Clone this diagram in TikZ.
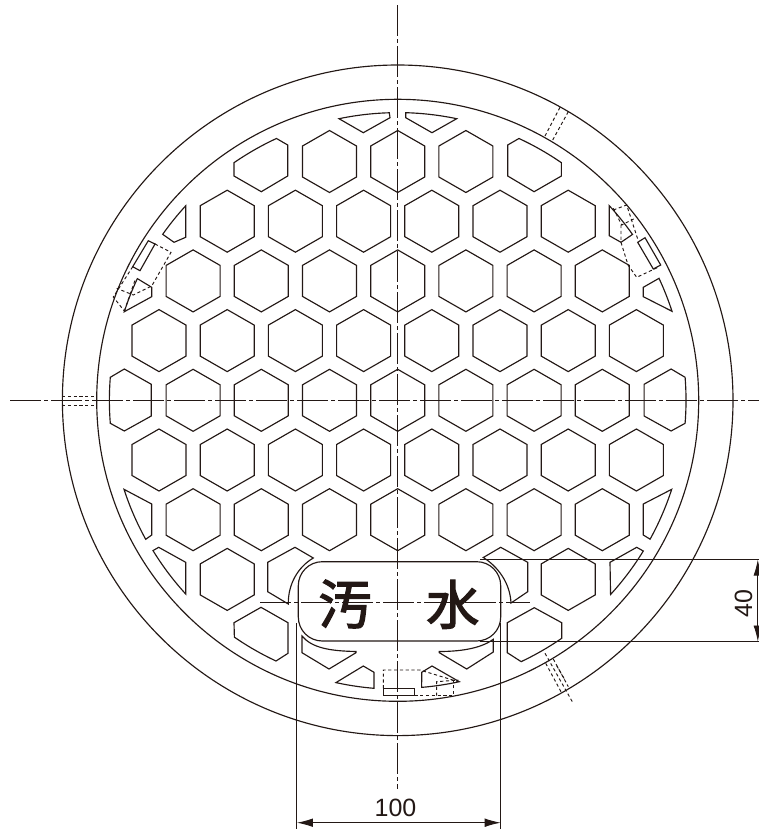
\documentclass[tikz,border=0pt]{standalone}
\usepackage{fontspec}
\setmainfont{Liberation Sans}
\newfontfamily\cjkfont[FakeBold=2.5]{Noto Sans CJK JP}
\usetikzlibrary{arrows.meta}
\definecolor{ink}{HTML}{231815}
\def\cx{397.7}
\def\cy{400.3}
\newcommand\ringpiece[3]{%
  \pgfmathsetmacro\ringA{atan2(#2-\cy,#1-\cx)}%
  \pgfmathsetmacro\ringR{veclen(#1-\cx,#2-\cy)}%
  \draw[hole] (#1,#2) arc[start angle=\ringA,end angle=#3,radius=\ringR]
}
\tikzset{
  hole/.style={draw=ink,line width=1.15pt,line join=miter},
  ring/.style={draw=ink,line width=1.15pt},
  centerline/.style={draw=ink,line width=0.9pt,dash pattern=on 31pt off 3pt on 4pt off 3pt},
  hidden/.style={draw=ink,line width=0.95pt,dash pattern=on 3.2pt off 2.6pt},
  thinline/.style={draw=ink,line width=0.95pt},
  dimline/.style={draw=ink,line width=0.95pt,{Latex[length=16pt,width=8.6pt]}-{Latex[length=16pt,width=8.6pt]}},
  dimtext/.style={text=ink,font=\fontsize{25}{30}\selectfont,inner sep=0pt},
  kanji/.style={text=ink,font=\fontsize{53}{60}\cjkfont,inner sep=0pt}
}
\begin{document}
\begin{tikzpicture}[x=1pt,y=1pt,yscale=-1]
\useasboundingbox (0,0) rectangle (759,830);
\coordinate (c) at (\cx,\cy);
% rings
\draw[ring] (c) circle[radius=335.3pt];
\draw[ring] (c) circle[radius=301pt];
% full hexagons
\foreach \r/\ks in {-4/{-1,0,1},-3/{-2.5,-1.5,-0.5,0.5,1.5,2.5},-2/{-3,-2,-1,0,1,2,3},
   -1/{-3.5,-2.5,-1.5,-0.5,0.5,1.5,2.5,3.5},0/{-3,-2,-1,0,1,2,3},
   1/{-3.5,-2.5,-1.5,-0.5,0.5,1.5,2.5,3.5},2/{-3,-2,-1,0,1,2,3},3/{-2.5,2.5}}{
  \foreach \k in \ks {
    \draw[hole,shift={(\cx+\k*68.2,\cy+\r*59.7)}]
      (0,-31)--(27,-15.5)--(27,15.5)--(0,31)--(-27,15.5)--(-27,-15.5)--cycle;
  }
}
% pieces cut by the inner arc
\pgfmathsetmacro\e{atan2(139-\cy,276.7-\cx)}
\ringpiece{234}{162.7}{\e} -- (287.7,145) -- (287.7,176) -- (261.3,191.7) -- (234,176) -- cycle;
\pgfmathsetmacro\e{atan2(139-\cy,518.7-\cx)}
\ringpiece{561.4}{162.7}{\e} -- (507.7,145) -- (507.7,176) -- (534.1,191.7) -- (561.4,176) -- cycle;
\pgfmathsetmacro\e{atan2(205.7-\cy,185.7-\cx)}
\ringpiece{162.7}{234.3}{\e} -- (185.7,237.3) -- (174,242.3) -- cycle;
\pgfmathsetmacro\e{atan2(234.3-\cy,632.7-\cx)}
\ringpiece{609.3}{205.7}{\e} -- (621,242.3) -- (609.3,235.7) -- cycle;
\pgfmathsetmacro\e{atan2(278.3-\cy,136.7-\cx)}
\ringpiece{124.3}{311.7}{\e} -- (151.7,287.3) -- (151.7,296.7) -- cycle;
\pgfmathsetmacro\e{atan2(311.7-\cy,670.7-\cx)}
\ringpiece{659}{278.3}{\e} -- (643.3,296.7) -- (643.3,287.3) -- cycle;
\pgfmathsetmacro\e{atan2(112.7-\cy,389.3-\cx)}
\ringpiece{339}{118.7}{\e} -- (390,117.7) -- (363.3,132.7) -- cycle;
\pgfmathsetmacro\e{atan2(118.7-\cy,456.7-\cx)}
\ringpiece{405.7}{112.7}{\e} -- (432,132.7) -- (405.7,117.7) -- cycle;
\pgfmathsetmacro\e{atan2(377.3-\cy,110.3-\cx)+360}
\ringpiece{110.3}{423.3}{\e} -- (124.3,369) -- (151.3,384.3) -- (151.3,416) -- (124.3,431) -- cycle;
\pgfmathsetmacro\e{atan2(423.3-\cy,685.1-\cx)}
\ringpiece{685.1}{377.3}{\e} -- (671.1,431) -- (644.1,416) -- (644.1,384.3) -- (671.1,369) -- cycle;
\pgfmathsetmacro\e{atan2(489.3-\cy,124-\cx)}
\ringpiece{145.7}{539.3}{\e} -- (151.7,504) -- (151.7,535) -- cycle;
\pgfmathsetmacro\e{atan2(539.3-\cy,650.3-\cx)}
\ringpiece{671.7}{489.3}{\e} -- (643.3,535) -- (643.3,504) -- cycle;
\pgfmathsetmacro\e{atan2(551-\cy,152.3-\cx)}
\ringpiece{185.7}{594}{\e} -- (158.7,547.3) -- (185.7,562.3) -- cycle;
\pgfmathsetmacro\e{atan2(594-\cy,610-\cx)}
\ringpiece{643.3}{551}{\e} -- (610,562.3) -- (636.7,547.3) -- cycle;
\pgfmathsetmacro\e{atan2(637.7-\cy,234-\cx)}
\ringpiece{276}{661}{\e} -- (234,622.7) -- (261,607.3) -- (288,622.7) -- (288,653.3) -- cycle;
\pgfmathsetmacro\e{atan2(660.7-\cy,520.7-\cx)}
\ringpiece{561.7}{638.3}{\e} -- (507.3,652.7) -- (507.3,622.7) -- (534.3,607.7) -- (561.7,622.7) -- cycle;
\pgfmathsetmacro\e{atan2(682.3-\cy,336-\cx)}
\ringpiece{374}{688.3}{\e} -- (363.3,666) -- (374,672.3) -- cycle;
\pgfmathsetmacro\e{atan2(688-\cy,421.7-\cx)}
\ringpiece{459.3}{681.7}{\e} -- (421.7,672.3) -- (432,666) -- cycle;
% pieces next to the name plate
\draw[hole] (313.3,558) .. controls (298,567) and (288,584) .. (288.3,604) -- (267.7,591.7) -- (267.7,562.3) -- (295,547.3) -- cycle;
\draw[hole] (483.3,557.5) .. controls (497,566) and (510,582) .. (511,603) -- (527.7,591.7) -- (527.7,562.3) -- (500.7,547.3) -- cycle;
\draw[hole] (302,636) .. controls (312,648) and (330,651) .. (356,651.5) -- (356,652.7) -- (329,669) -- (302,652.7) -- cycle;
\draw[hole] (493.3,639.3) .. controls (483,647) and (465,651.5) .. (439.3,651.5) -- (439.3,652.7) -- (466.7,669) -- (493.3,652) -- cycle;
% name plate
\draw[hole,rounded corners=24pt] (298.3,561.7) rectangle (500.7,641);
% solid small rectangles
\draw[hole] (148.3,240.7) -- (155,244) -- (140,270.7) -- (132.7,266.7) -- cycle;
\draw[hole] (645,237.7) -- (660.7,265) -- (653.3,269) -- (637.7,242.3) -- cycle;
\draw[hole] (383.3,688.3) rectangle (414.3,695.7);
% hidden lines, left group
\draw[hidden] (155,244) -- (171,252.3) -- (151.7,286) -- (133.3,295) -- (116.7,288.3);
\draw[hidden] (132.7,266.7) -- (113.3,297) -- (124.3,311);
\draw[hidden] (124.3,311) -- (135.7,278.3);
% hidden lines, right group
\draw[hidden] (613.3,210) -- (626.7,205) -- (638,240);
\draw[hidden] (613.3,208.3) -- (621.7,225) -- (635,218.3);
\draw[hidden] (621,225) -- (621,242.3) -- (628,265) -- (636.7,277.3) -- (659.3,266.7);
% hidden lines, bottom group
\draw[hidden] (383.3,688.3) -- (383.3,670) -- (420,670) -- (458.3,681.7);
\draw[hidden] (414.3,695.7) -- (453.3,695.7) -- (453.3,680);
\draw[hidden] (436.7,695.7) -- (436.7,681.7) -- (458.3,680);
% hidden lines across the ring
\draw[hidden] (545,136) -- (560,107.3);
\draw[hidden] (552.7,140) -- (568.3,111.7);
\draw[hidden] (62,396.7) -- (96.7,396.7);
\draw[hidden] (62,405) -- (96.7,405);
\draw[hidden] (545,653.3) -- (572.3,701.7);
\draw[hidden] (545.7,663.3) -- (561,691.7);
\draw[hidden] (553.3,659) -- (568.3,686.7);
\draw[hidden] (556.7,665.7) -- (565,680);
% centre lines
\coordinate (vt) at (\cx,5);
\coordinate (vb) at (\cx,789);
\coordinate (hl) at (10,\cy);
\coordinate (hr) at (759,\cy);
\coordinate (pl) at (260.3,602.3);
\coordinate (pr) at (529.5,602.3);
\draw[centerline] (vt) -- (vb);
\draw[centerline] (hl) -- (hr);
\draw[centerline] (pl) -- (pr);
% plate text
\node[kanji] (k1) at (345,604) {汚};
\node[kanji] (k2) at (452.8,604.3) {水};
% dimension 100
\coordinate (e1t) at (296.9,623);
\coordinate (e1b) at (296.9,829);
\coordinate (e2t) at (500.7,623);
\coordinate (e2b) at (500.7,829);
\coordinate (d1) at (296.9,822.7);
\coordinate (d2) at (500.7,822.7);
\draw[thinline] (e1t) -- (e1b);
\draw[thinline] (e2t) -- (e2b);
\draw[dimline] (d1) -- (d2);
\node[dimtext] (w) at (395.5,807.5) {100};
% dimension 40
\coordinate (f1l) at (480,559.6);
\coordinate (f1r) at (759,559.6);
\coordinate (f2l) at (480,641.5);
\coordinate (f2r) at (759,641.5);
\coordinate (g1) at (757.8,559.6);
\coordinate (g2) at (757.8,641.5);
\draw[thinline] (f1l) -- (f1r);
\draw[thinline] (f2l) -- (f2r);
\draw[dimline] (g1) -- (g2);
\node[dimtext,rotate=90] (h) at (743.5,603.8) {40};
\end{tikzpicture}
\end{document}
